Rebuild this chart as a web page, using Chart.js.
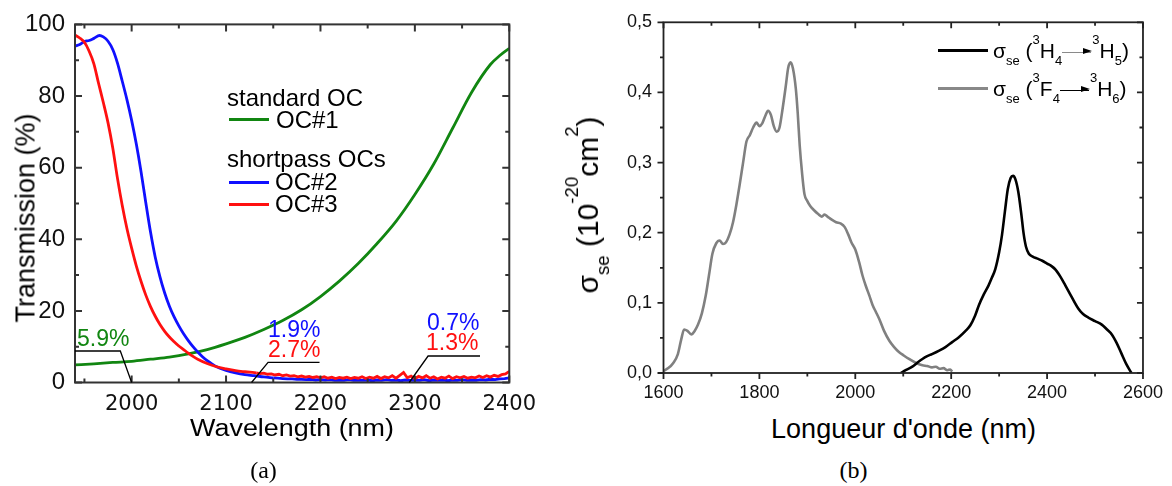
<!DOCTYPE html>
<html>
<head>
<meta charset="utf-8">
<script src="https://cdn.jsdelivr.net/npm/chart.js@4.4.1/dist/chart.umd.min.js"></script>
<style>
  html, body { margin: 0; padding: 0; background: #fff; }
  body { width: 1172px; height: 486px; position: relative; overflow: hidden; font-family: "Liberation Sans", Arial, sans-serif; color: #000; }
  canvas { position: absolute; top: 0; }
  #chartA { left: 0; }
  #chartB { left: 560px; }
  .t { position: absolute; white-space: nowrap; line-height: 1; }
  .sw { position: absolute; height: 3px; }
  .cap { font-family: "Liberation Serif", "DejaVu Serif", serif; font-size: 24px; transform: translateX(-50%); }
  .sb { font-size: 62%; position: relative; top: 0.6em; }
  .sp { font-size: 62%; position: relative; top: -1.05em; }
  .arr { display: inline-block; width: 29px; height: 0; border-top: 1.3px solid #000; position: relative; top: -5px; margin: 0 1px 0 0; }
  .arr::after { content: ""; position: absolute; right: -1px; top: -4.5px; border-left: 9px solid #000; border-top: 3.5px solid transparent; border-bottom: 3.5px solid transparent; }
  .arr.g { border-top-color: #8a8a8a; }
</style>
</head>
<body>
<canvas id="chartA" width="545" height="450"></canvas>
<canvas id="chartB" width="612" height="410"></canvas>

<!-- panel (a) texts -->
<div class="t" style="left:26px; top:218px; font-size:27px; transform: translate(-50%,-50%) rotate(-90deg);">Transmission (%)</div>
<div class="t" style="left:292px; top:416.5px; font-size:23px; transform: translateX(-50%) scaleX(1.17);">Wavelength (nm)</div>

<div class="t" style="left:227px; top:85.7px; font-size:24px;">standard OC</div>
<div class="sw" style="left:229px; top:118px; width:40px; background:#118611;"></div>
<div class="t" style="left:276px; top:107.7px; font-size:24px;">OC#1</div>
<div class="t" style="left:227px; top:146.7px; font-size:24px;">shortpass OCs</div>
<div class="sw" style="left:229px; top:181px; width:40px; background:#1010ff;"></div>
<div class="t" style="left:275px; top:170.2px; font-size:24px;">OC#2</div>
<div class="sw" style="left:229px; top:202.5px; width:40px; background:#ff1010;"></div>
<div class="t" style="left:275px; top:191.7px; font-size:24px;">OC#3</div>

<div class="t" style="left:77px; top:327.2px; font-size:23px; color:#118611;">5.9%</div>
<div class="t" style="left:268px; top:317.8px; font-size:23px; color:#1010ff;">1.9%</div>
<div class="t" style="left:268px; top:338.2px; font-size:23px; color:#ff1010;">2.7%</div>
<div class="t" style="left:427px; top:310.5px; font-size:23px; color:#1010ff;">0.7%</div>
<div class="t" style="left:426px; top:331.2px; font-size:23px; color:#ff1010;">1.3%</div>

<div class="t cap" style="left:263.5px; top:458px;">(a)</div>

<!-- panel (b) texts -->
<div class="t" style="left:587.6px; top:205px; font-size:30px; transform: translate(-50%,-50%) rotate(-90deg);">σ<span class="sb">se</span> (10<span class="sp">-20</span>cm<span class="sp">2</span>)</div>
<div class="t" style="left:903.5px; top:416.4px; font-size:27px; transform: translateX(-50%);">Longueur d'onde (nm)</div>

<div class="sw" style="left:938px; top:48.5px; width:50px; background:#000;"></div>
<div class="t" style="left:993px; top:39.7px; font-size:21px;">σ<span class="sb">se</span> (<span class="sp">3</span>H<span class="sb">4</span><span class="arr g"></span><span class="sp">3</span>H<span class="sb">5</span>)</div>
<div class="sw" style="left:938px; top:86.5px; width:50px; background:#888;"></div>
<div class="t" style="left:993px; top:77.7px; font-size:21px;">σ<span class="sb">se</span> (<span class="sp">3</span>F<span class="sb">4</span><span class="arr"></span><span class="sp">3</span>H<span class="sb">6</span>)</div>

<div class="t cap" style="left:853.5px; top:458px;">(b)</div>

<script>
// ---- panel (a): transmission of the output couplers ----
const X_TICKS_A = [2000, 2100, 2200, 2300, 2400];
const Y_TICKS_A = [0, 20, 40, 60, 80, 100];

const OC1_WL = [1940, 1960, 1980, 2000, 2020, 2040, 2060, 2080, 2100, 2120, 2140, 2160, 2180, 2200, 2220, 2240, 2260, 2280, 2300, 2320, 2340, 2360, 2380, 2390, 2400];
const OC1_T = [4.9, 5.2, 5.6, 5.9, 6.5, 7.1, 8.0, 9.2, 10.8, 12.6, 14.8, 17.3, 20.3, 24.0, 28.3, 33.2, 38.8, 45.0, 52.5, 61.0, 71.0, 81.0, 88.8, 91.3, 93.3];

const OC2_WL = [1940, 1945, 1950, 1955, 1960, 1966, 1970, 1975, 1980, 1985, 1990, 1995, 2000, 2005, 2010, 2015, 2020, 2025, 2030, 2035, 2040, 2045, 2050, 2055, 2060, 2065, 2070, 2075, 2080, 2085, 2090, 2100, 2110, 2120, 2130, 2140, 2150];
const OC2_T = [93.9, 94.4, 95.2, 95.5, 96.1, 96.9, 96.5, 95.3, 93.0, 89.2, 84.2, 79.0, 73.2, 66.5, 58.8, 50.2, 42.0, 35.0, 29.5, 25.0, 21.3, 18.3, 15.8, 13.6, 11.7, 10.0, 8.5, 7.2, 6.1, 5.2, 4.4, 3.4, 2.7, 2.2, 1.9, 1.55, 1.3];
// flat tail, one reading every 5 nm from 2155 nm
const OC2_TAIL_START = 2155;
const OC2_TAIL_STEP = 5;
const OC2_TAIL_T = [
  1.2, 1.1, 1.0, 1.0, 0.9, 0.9, 0.8, 0.9, 0.7,
  0.8, 0.7, 0.8, 0.6, 0.7, 0.6, 0.8, 0.6, 0.7, 0.6,
  0.7, 0.5, 0.7, 0.6, 0.8, 0.6, 0.7, 0.5, 0.7, 0.6,
  0.7, 0.6, 0.8, 0.5, 0.7, 0.6, 0.7, 0.5, 0.7, 0.6,
  0.8, 0.6, 0.7, 0.6, 0.8, 0.7, 0.9, 0.8, 1.0, 1.1,
  1.3,
];

const OC3_WL = [1940, 1945, 1950, 1955, 1960, 1965, 1970, 1975, 1980, 1985, 1990, 1995, 2000, 2005, 2010, 2015, 2020, 2025, 2030, 2035, 2040, 2045, 2050, 2055, 2060, 2065, 2070, 2080, 2090, 2100, 2110, 2120, 2132];
const OC3_T = [97.0, 96.2, 95.0, 92.5, 89.0, 83.5, 78.2, 72.5, 65.5, 57.0, 49.5, 43.0, 37.5, 32.5, 28.2, 24.4, 21.2, 18.5, 16.2, 14.3, 12.7, 11.4, 10.2, 9.2, 8.2, 7.3, 6.5, 5.3, 4.4, 3.8, 3.3, 3.0, 2.7];
// noisy tail, one reading every 4 nm from 2132 nm
const OC3_TAIL_START = 2132;
const OC3_TAIL_STEP = 4;
const OC3_TAIL_T = [
  2.7, 2.5, 2.6, 2.3, 2.4, 2.1, 2.3, 1.9, 2.1, 1.8,
  1.9, 1.6, 1.8, 1.5, 1.7, 1.4, 1.6, 1.3, 1.6, 1.2,
  1.5, 1.1, 1.4, 1.2, 1.5, 1.1, 1.4, 1.2, 1.6, 1.1,
  1.5, 1.2, 1.7, 1.1, 1.6, 1.3, 1.9, 1.2, 2.0, 2.8,
  1.3, 1.8, 1.1, 1.7, 1.3, 1.9, 1.2, 1.6, 1.0, 1.5,
  1.2, 1.8, 1.1, 1.6, 1.3, 1.7, 1.2, 1.5, 1.3, 1.8,
  1.4, 1.9, 1.5, 2.0, 1.7, 2.2, 2.4, 3.1,
];

// leader lines for the percentage labels, [wavelength, transmission]
const LEADERS_A = [
  [[1940, 8.8], [1988, 8.8], [2000, 0]],
  [[2127, 0], [2144.5, 5.6], [2199, 5.6]],
  [[2294, 0], [2314, 7.4], [2369, 7.4]],
];

// ---- panel (b): emission cross sections ----
const X_TICKS_B = [1600, 1800, 2000, 2200, 2400, 2600];
const Y_TICKS_B = [0, 0.1, 0.2, 0.3, 0.4, 0.5];

const F4_WL = [1600, 1610, 1620, 1630, 1637, 1643, 1650, 1658, 1665, 1672, 1680, 1688, 1695, 1702, 1710, 1717, 1724, 1730, 1738, 1745, 1752, 1759, 1766, 1773, 1780, 1787, 1794, 1800, 1806, 1812, 1818, 1824, 1830, 1836, 1842, 1848, 1855, 1860, 1865, 1870, 1876, 1880, 1884, 1889, 1894, 1900, 1906, 1914, 1922, 1930, 1936, 1942, 1950, 1960, 1970, 1978, 1985, 1992, 2000, 2008, 2015, 2022, 2029, 2036, 2043, 2050, 2060, 2071, 2081, 2091, 2101, 2112, 2125, 2140, 2150, 2160, 2168, 2176, 2184, 2192, 2198, 2202];
const F4_SIGMA = [0.003, 0.007, 0.014, 0.027, 0.048, 0.062, 0.060, 0.055, 0.060, 0.069, 0.085, 0.110, 0.140, 0.170, 0.185, 0.189, 0.184, 0.186, 0.198, 0.215, 0.240, 0.269, 0.300, 0.330, 0.339, 0.350, 0.357, 0.352, 0.356, 0.366, 0.374, 0.368, 0.352, 0.344, 0.350, 0.375, 0.409, 0.435, 0.443, 0.434, 0.405, 0.370, 0.325, 0.285, 0.255, 0.245, 0.238, 0.232, 0.227, 0.223, 0.226, 0.223, 0.219, 0.215, 0.213, 0.208, 0.198, 0.186, 0.176, 0.158, 0.139, 0.124, 0.111, 0.097, 0.087, 0.077, 0.060, 0.046, 0.037, 0.030, 0.025, 0.020, 0.015, 0.011, 0.010, 0.008, 0.009, 0.006, 0.007, 0.004, 0.005, 0.002];

const H4_WL = [2095, 2105, 2119, 2130, 2140, 2150, 2160, 2175, 2188, 2202, 2216, 2230, 2240, 2250, 2258, 2268, 2278, 2285, 2292, 2300, 2306, 2312, 2318, 2324, 2329, 2334, 2340, 2346, 2351, 2356, 2362, 2370, 2380, 2390, 2400, 2410, 2418, 2428, 2438, 2450, 2465, 2475, 2486, 2500, 2514, 2525, 2535, 2545, 2555, 2565, 2576];
const H4_SIGMA = [0.000, 0.004, 0.009, 0.015, 0.020, 0.024, 0.027, 0.032, 0.037, 0.044, 0.051, 0.060, 0.068, 0.082, 0.097, 0.112, 0.125, 0.136, 0.148, 0.172, 0.197, 0.230, 0.262, 0.278, 0.281, 0.276, 0.258, 0.228, 0.199, 0.180, 0.170, 0.166, 0.163, 0.160, 0.156, 0.152, 0.147, 0.137, 0.125, 0.110, 0.092, 0.084, 0.079, 0.074, 0.069, 0.062, 0.055, 0.043, 0.028, 0.013, 0.000];

const GREEN = "#118611";
const BLUE = "#1010ff";
const RED = "#ff1010";

Chart.defaults.font.family = "'Liberation Sans', Arial, sans-serif";
Chart.defaults.color = "#111";

const pairs = (xs, ys) => xs.map((v, i) => ({ x: v, y: ys[i] }));
const tail = (start, step, ys) => ys.map((v, i) => ({ x: start + i * step, y: v }));

// box frame + tick marks drawn by hand (Chart.js has no inward ticks)
function frameTicks(cfg) {
  return {
    id: "frameTicks",
    afterDatasetsDraw(chart) {
      const { ctx, chartArea: a } = chart;
      const { x, y } = chart.scales;
      ctx.save();
      ctx.strokeStyle = cfg.color;
      ctx.lineWidth = cfg.width;
      ctx.beginPath();
      for (let k = Math.ceil(x.min / cfg.xMinor - 1e-9); k * cfg.xMinor <= x.max + 1e-9; k++) {
        const px = x.getPixelForValue(k * cfg.xMinor);
        const len = k % 2 === 0 ? cfg.major : cfg.minor;
        ctx.moveTo(px, a.bottom);
        ctx.lineTo(px, a.bottom + cfg.outer * len);
        ctx.moveTo(px, a.top);
        ctx.lineTo(px, a.top + len);
      }
      for (let k = Math.ceil(y.min / cfg.yMinor - 1e-9); k * cfg.yMinor <= y.max + 1e-9; k++) {
        const py = y.getPixelForValue(k * cfg.yMinor);
        const len = k % 2 === 0 ? cfg.major : cfg.minor;
        ctx.moveTo(a.left, py);
        ctx.lineTo(a.left - cfg.outer * len, py);
        ctx.moveTo(a.right, py);
        ctx.lineTo(a.right - len, py);
      }
      ctx.stroke();
      ctx.strokeRect(a.left, a.top, a.right - a.left, a.bottom - a.top);
      ctx.restore();
    },
  };
}

function leaderLines(paths) {
  return {
    id: "leaderLines",
    afterDatasetsDraw(chart) {
      const { ctx } = chart;
      const { x, y } = chart.scales;
      ctx.save();
      ctx.strokeStyle = "#000";
      ctx.lineWidth = 1.3;
      for (const path of paths) {
        ctx.beginPath();
        path.forEach(([wl, t], i) => {
          const px = x.getPixelForValue(wl);
          const py = y.getPixelForValue(t);
          if (i === 0) ctx.moveTo(px, py);
          else ctx.lineTo(px, py);
        });
        ctx.stroke();
      }
      ctx.restore();
    },
  };
}

const smooth = { pointRadius: 0, borderWidth: 2.8, cubicInterpolationMode: "monotone", fill: false };
const noisy = { pointRadius: 0, borderWidth: 2.8, tension: 0, fill: false };

new Chart(document.getElementById("chartA"), {
  type: "line",
  data: {
    datasets: [
      { ...noisy, label: "OC#3 tail", data: tail(OC3_TAIL_START, OC3_TAIL_STEP, OC3_TAIL_T), borderColor: RED },
      { ...smooth, label: "OC#3", data: pairs(OC3_WL, OC3_T), borderColor: RED },
      { ...noisy, label: "OC#2 tail", data: pairs(OC2_WL.slice(-1), OC2_T.slice(-1)).concat(tail(OC2_TAIL_START, OC2_TAIL_STEP, OC2_TAIL_T)), borderColor: BLUE },
      { ...smooth, label: "OC#2", data: pairs(OC2_WL, OC2_T), borderColor: BLUE },
      { ...smooth, label: "OC#1", data: pairs(OC1_WL, OC1_T), borderColor: GREEN },
    ],
  },
  options: {
    responsive: false,
    animation: false,
    events: [],
    layout: { padding: { left: 0, top: 23, right: 35.5, bottom: 0 } },
    plugins: { legend: { display: false }, tooltip: { enabled: false } },
    scales: {
      x: {
        type: "linear",
        min: 1940,
        max: 2400,
        grid: { display: false, drawTicks: false },
        border: { display: false },
        afterBuildTicks: (s) => { s.ticks = X_TICKS_A.map((v) => ({ value: v })); },
        afterFit: (s) => { s.height = 67.5; },
        ticks: { font: { family: "'DejaVu Sans'", size: 21 }, color: "#111", padding: 9, maxRotation: 0, autoSkip: false, callback: (v) => String(v) },
      },
      y: {
        min: 0,
        max: 100,
        grid: { display: false, drawTicks: false },
        border: { display: false },
        afterBuildTicks: (s) => { s.ticks = Y_TICKS_A.map((v) => ({ value: v })); },
        afterFit: (s) => { s.width = 75; },
        ticks: { font: { size: 24 }, color: "#111", padding: 10, callback: (v) => String(v) },
      },
    },
  },
  plugins: [
    frameTicks({ color: "#333", width: 2, xMinor: 50, yMinor: 10, major: 7, minor: 4, outer: -1 }),
    leaderLines(LEADERS_A),
  ],
});

new Chart(document.getElementById("chartB"), {
  type: "line",
  data: {
    datasets: [
      { ...smooth, borderWidth: 2.6, label: "3H4 -> 3H5", data: pairs(H4_WL, H4_SIGMA), borderColor: "#000" },
      { ...smooth, borderWidth: 2.6, label: "3F4 -> 3H6", data: pairs(F4_WL, F4_SIGMA), borderColor: "#808080" },
    ],
  },
  options: {
    responsive: false,
    animation: false,
    events: [],
    layout: { padding: { left: 0, top: 15, right: 28, bottom: 0 } },
    plugins: { legend: { display: false }, tooltip: { enabled: false } },
    scales: {
      x: {
        type: "linear",
        min: 1600,
        max: 2600,
        grid: { display: false, drawTicks: false },
        border: { display: false },
        afterBuildTicks: (s) => { s.ticks = X_TICKS_B.map((v) => ({ value: v })); },
        afterFit: (s) => { s.height = 37; },
        ticks: { font: { size: 18 }, color: "#111", padding: 9, maxRotation: 0, autoSkip: false, callback: (v) => String(v) },
      },
      y: {
        min: 0,
        max: 0.5,
        grid: { display: false, drawTicks: false },
        border: { display: false },
        afterBuildTicks: (s) => { s.ticks = Y_TICKS_B.map((v) => ({ value: v })); },
        afterFit: (s) => { s.width = 103.5; },
        ticks: { font: { size: 18 }, color: "#111", padding: 11.5, callback: (v) => v.toFixed(1).replace(".", ",") },
      },
    },
  },
  plugins: [frameTicks({ color: "#222", width: 1.8, xMinor: 100, yMinor: 0.05, major: 6, minor: 3.5, outer: 1 })],
});
</script>
</body>
</html>
